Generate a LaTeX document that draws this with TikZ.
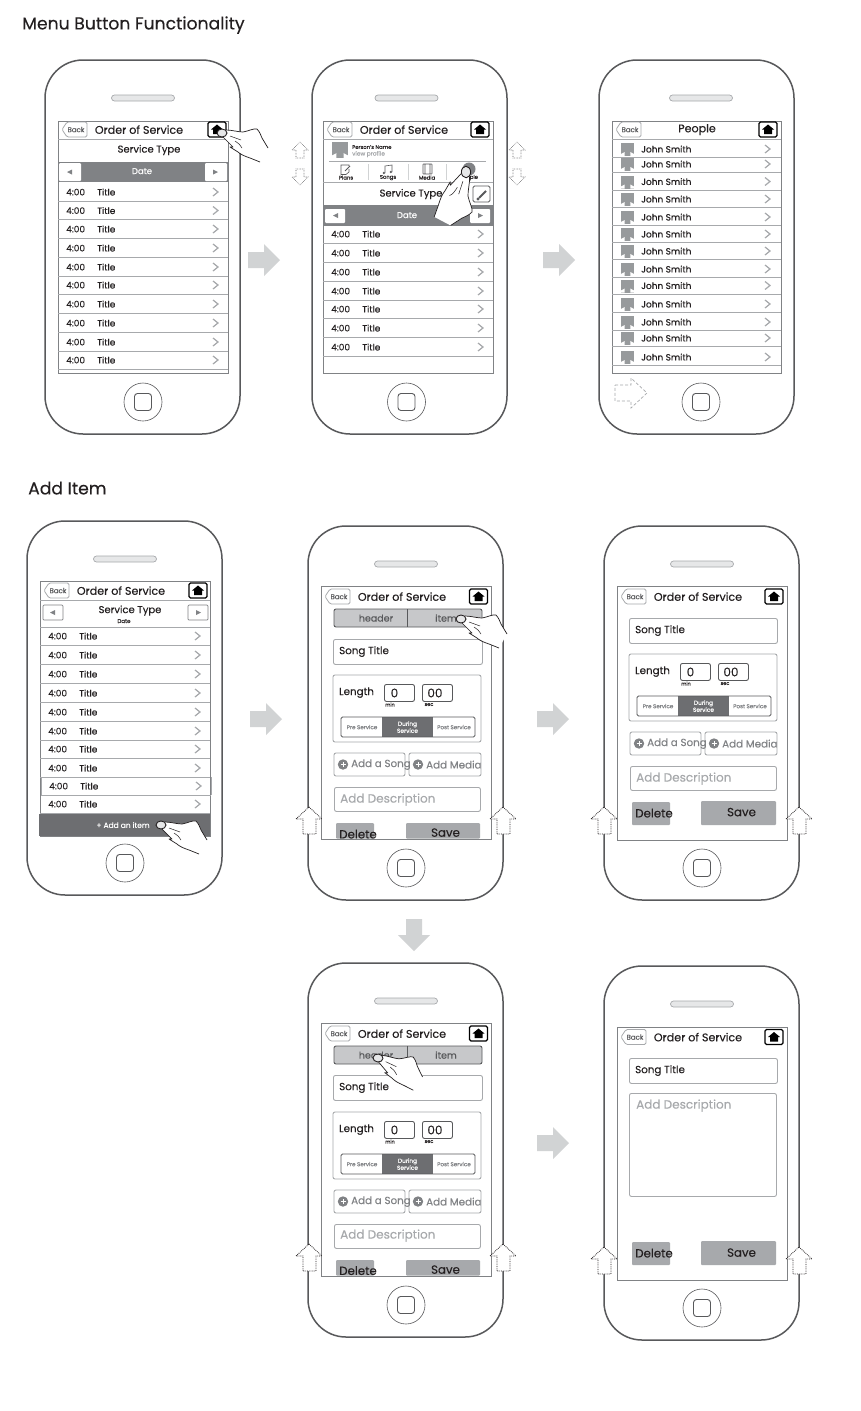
\documentclass[tikz,border=0pt]{standalone}
\usepackage{fontspec}
\setmainfont[FakeBold=0.2]{Poppins}
\definecolor{gA}{HTML}{58595B}
\definecolor{gB}{HTML}{808285}
\definecolor{gC}{HTML}{A7A9AC}
\definecolor{gD}{HTML}{D1D3D4}
\definecolor{gE}{HTML}{C7C8CA}
\definecolor{gF}{HTML}{6D6E71}
\definecolor{gG}{HTML}{E6E7E8}
\definecolor{txt}{HTML}{231F20}
\newcommand\fs[1]{\fontsize{#1}{#1}\selectfont}
\tikzset{
  lab/.style={inner sep=0pt,text=txt,font=\fs{9},yshift=-.1pt},
  rlab/.style={lab,anchor=west},
  thin line/.style={draw=gC,line width=.9pt},
  field/.style={draw=gC,line width=.9pt,rounded corners=2pt,fill=white},
  dotarrow/.style={draw=txt,densely dotted,line width=.8pt,fill=white},
  lightarrow/.style={draw=gA,densely dotted,line width=.55pt,fill=white},
  hand/.pic={
    \path[fill=white] (4,-3) .. controls (10,-3) and (16,-1) .. (21,-1)
      .. controls (27,-2) and (32,-5) .. (35,-4) .. controls (38,-1) and (39,3) .. (40,5)
      -- (46,15) -- (38,29) -- (28,25) -- (16,19) -- (8,14) -- (11,14) -- (1,4) -- cycle;
    \draw[txt,line width=.7pt,line join=round] (4,-3) .. controls (10,-3) and (16,-1) .. (21,-1)
      .. controls (27,-2) and (32,-5) .. (35,-4) .. controls (38,-1) and (39,3) .. (40,5) -- (46,15);
    \draw[txt,line width=.7pt,line join=round] (38,29) -- (28,25) .. controls (22,23) and (18,21) .. (16,19)
      -- (8,14) -- (11,14) -- (1,4);
    \draw[txt,line width=.5pt] (8,3) -- (19,7) (13,8) .. controls (16,10) and (19,12) .. (20,15);
    \draw[txt,line width=.9pt,fill=gG] (0,0) ellipse (5 and 4);
  }
}
% name, x, y, centre offset of speaker and home button
\newcommand\Phone[4]{\begin{scope}[shift={(#2,#3)}]
  \draw[gA,line width=1.5pt,rounded corners=38pt,fill=white] (0,0) rectangle (195,374);
  \draw[gC,line width=.7pt,rounded corners=3pt,fill=gG] (#4-31.5,35) rectangle (#4+31.5,41);
  \node[circle,draw=gA,line width=.6pt,minimum size=38pt,inner sep=0pt] (#1home) at (#4,342) {};
  \draw[gA,line width=.9pt,rounded corners=3pt] (#4-8.5,333.5) rectangle (#4+8.5,350.5);
\end{scope}}
% house button x centre, y centre
\newcommand\HomeBtn[2]{\begin{scope}[shift={(#1,#2)}]
  \draw[black,line width=1.1pt,rounded corners=1.5pt,fill=white] (-9,-7.5) rectangle (9,7.5);
  \fill[black] (-6,0) -- (0,-5) -- (6,0) -- (4,0) -- (4,4.5) -- (-4,4.5) -- (-4,0) -- cycle;
\end{scope}}
% name, left, top of button, title, title centre x, home x
\newcommand\Hdr[6]{%
  \draw[gC,line width=.8pt,rounded corners=1.5pt,fill=white] (#2+4,#3+7.5) -- (#2+9,#3) -- (#2+29,#3) -- (#2+29,#3+15) -- (#2+9,#3+15) -- cycle;
  \node[lab,font=\fs{7},text=gA] (#1back) at (#2+18,#3+7.5) {Back};
  \node[lab,font=\fs{11.1}] (#1title) at (#5,#3+7.5) {#4};
  \HomeBtn{#6}{#3+7.5}}
\newcommand\Chev[2]{\draw[gC,line width=1.2pt] (#1-3,#2-4) -- (#1+2,#2) -- (#1-3,#2+4);}
% name, left, y
\newcommand\TRow[3]{%
  \node[rlab] (#1t) at (#2+8,#3) {4:00};
  \node[rlab] (#1n) at (#2+39,#3) {Title};
  \Chev{#2+158}{#3}
  \draw[thin line] (#2,#3+9.2) -- (#2+170,#3+9.2);}
\newcommand\Avatar[3]{\begin{scope}[shift={(#1,#2)},scale=#3]
  \fill[gC!60!gB] (0,0) rectangle (1,1);
  \fill[white] (0,1) -- (0,.84) -- (.27,.7) -- (.27,1) -- cycle (1,1) -- (1,.84) -- (.73,.7) -- (.73,1) -- cycle;
\end{scope}}
% name, y
\newcommand\PRow[2]{%
  \Avatar{621}{#2-6}{13}
  \node[rlab] (#1) at (641,#2) {John Smith};
  \Chev{768}{#2}
  \draw[thin line] (612,#2+8.5) -- (781,#2+8.5);}
% name, x, y : length block
\newcommand\LenBlock[3]{\begin{scope}[shift={(#2,#3)}]
  \draw[field] (0,0) rectangle (148,67);
  \node[rlab,font=\fs{10.3}] (#1len) at (6,17.5) {Length};
  \node[draw=gA,line width=.9pt,rounded corners=2pt,minimum width=30pt,minimum height=17pt,inner sep=0pt,text=txt,font=\fs{12},anchor=north west] (#1min) at (51,9) {\hspace*{-10pt}0};
  \node[draw=gA,line width=.9pt,rounded corners=2pt,minimum width=30pt,minimum height=17pt,inner sep=0pt,text=txt,font=\fs{12},anchor=north west] (#1sec) at (89,9) {\hspace*{-5pt}00};
  \node[lab,font=\fs{5}] (#1mint) at (57,29.5) {min};
  \node[lab,font=\fs{5}] (#1sect) at (96,29.5) {sec};
  \fill[gF] (49,42) rectangle (100,62);
  \draw[gA,line width=.8pt,rounded corners=1.5pt] (8,42) rectangle (142,62);
  \node[lab,font=\fs{5.6},text=gB] (#1pre) at (29,52) {Pre Service};
  \node[lab,font=\fs{5.8},text=white,align=center] (#1dur) at (74.5,52) {During\\Service};
  \node[lab,font=\fs{5.6},text=gB] (#1post) at (121,52) {Post Service};
\end{scope}}
% name, x, y : add buttons
\newcommand\AddBtns[3]{\begin{scope}[shift={(#2,#3)}]
  \draw[field] (0,0) rectangle (71,23);
  \draw[field] (75,0) rectangle (147,23);
  \fill[gB] (9,11.5) circle (5.2);
  \fill[gB] (84,11.5) circle (5.2);
  \draw[white,line width=.6pt] (6.5,11.5) -- (11.5,11.5) (9,9) -- (9,14) (81.5,11.5) -- (86.5,11.5) (84,9) -- (84,14);
  \node[rlab,font=\fs{10.3},text=gB] (#1song) at (17,11.5) {Add a Song};
  \node[rlab,font=\fs{10.3},text=gB] (#1media) at (92,11.5) {Add Media};
\end{scope}}
\newcommand\Seg[3]{\begin{scope}[shift={(#2,#3)}]
  \draw[gA,line width=.9pt,rounded corners=2pt,fill=gE] (0,0) rectangle (148,18);
  \draw[gA,line width=.9pt] (73,0) -- (73,18);
  \node[lab,font=\fs{9.5},text=gA] (#1hd) at (42,9) {header};
  \node[lab,font=\fs{9.5},text=gA] (#1it) at (112,9) {item};
\end{scope}}
\newcommand\UpArrow[2]{\path[dotarrow] (#1,#2) -- (#1+13,#2+12) -- (#1+7,#2+12) -- (#1+7,#2+27) -- (#1-6,#2+27) -- (#1-6,#2+12) -- (#1-13,#2+12) -- cycle;}
\newcommand\MiniUp[2]{\path[lightarrow] (#1,#2) -- (#1+8,#2+8) -- (#1+4,#2+8) -- (#1+4,#2+16) -- (#1-4,#2+16) -- (#1-4,#2+8) -- (#1-8,#2+8) -- cycle;}
\newcommand\MiniDn[2]{\path[lightarrow] (#1,#2+16) -- (#1+8,#2+8) -- (#1+4,#2+8) -- (#1+4,#2) -- (#1-4,#2) -- (#1-4,#2+8) -- (#1-8,#2+8) -- cycle;}
\newcommand\BigR[2]{\fill[gD] (#1,#2+8) -- (#1+16,#2+8) -- (#1+16,#2) -- (#1+32,#2+16) -- (#1+16,#2+32) -- (#1+16,#2+24) -- (#1,#2+24) -- cycle;}
\newcommand\BigD[2]{\fill[gD] (#1+8,#2) -- (#1+24,#2) -- (#1+24,#2+16) -- (#1+32,#2+16) -- (#1+16,#2+32) -- (#1,#2+16) -- (#1+8,#2+16) -- cycle;}
\begin{document}
\begin{tikzpicture}[x=1pt,y=-1pt]
\useasboundingbox (0,0) rectangle (861,1411);
\fill[white] (0,0) rectangle (861,1411);
\node[rlab,font=\fs{17.2}] (title1) at (22,25) {Menu Button Functionality};
\node[rlab,font=\fs{17.2}] (title2) at (28,488) {Add Item};

% ---------- Phone 1
\Phone{pa}{45}{60}{98}
\draw[gB,line width=.9pt,fill=white] (58,121) rectangle (228,373);
\Hdr{pa}{58}{122}{Order of Service}{139}{217}
\draw[thin line] (58,139) -- (228,139);
\node[lab,font=\fs{10}] (pasvc) at (149,150) {Service Type};
\fill[gB] (58,162) rectangle (228,182);
\node[lab,font=\fs{8.5},text=white] (padate) at (142,171) {Date};
\fill[white,rounded corners=1pt] (59,163) rectangle (81,181) (205,163) rectangle (227,181);
\fill[gB] (72,169.5) -- (67,172) -- (72,174.5) -- cycle (213,169.5) -- (218,172) -- (213,174.5) -- cycle;
\foreach \i/\y in {0/192,1/210.5,2/229,3/248,4/267,5/285,6/304,7/323,8/342,9/360}{\TRow{par\i}{58}{\y}}

% ---------- Phone 2
\Phone{pb}{312}{60}{94.5}
\draw[gB,line width=.9pt,fill=white] (323,121) rectangle (493,373);
\Hdr{pb}{323}{122}{Order of Service}{404}{480}
\draw[thin line] (323,139) -- (493,139);
\Avatar{332}{142}{16}
\node[rlab,font=\fs{5.3}] (pbpn) at (352,147) {Person's Name};
\node[rlab,font=\fs{5.8},text=gC] (pbvp) at (352,154) {view profile};
\draw[gC,line width=1pt] (329,161.5) -- (486,161.5);
\draw[gD,line width=.6pt] (368,164) -- (368,180) (408,164) -- (408,180) (446,164) -- (446,180);
% plans icon
\draw[gA,line width=.6pt] (349,169) -- (349,172) -- (346,174.5) -- (341,174.5) -- (341,165) -- (349,165) -- (349,166);
\draw[gA,line width=.8pt] (345,171) -- (350,166);
% songs icon
\draw[gA,line width=.6pt] (385,173) -- (385,166) -- (392,165) -- (392,172);
\fill[gA] (383.8,173) circle (1.3) (390.8,172) circle (1.3);
% media icon
\draw[gA,line width=.6pt,rounded corners=.5pt] (423,164) rectangle (432,174) (425,164) -- (425,174) (430,164) -- (430,174);
% people icon
\fill[gB] (469,169) circle (6.5);
\node[lab,font=\fs{5.3}] (pbi1) at (346,177.5) {Plans};
\node[lab,font=\fs{5.3}] (pbi2) at (388,177.5) {Songs};
\node[lab,font=\fs{5.3}] (pbi3) at (427,177.5) {Media};
\node[lab,font=\fs{5.3}] (pbi4) at (469,177.5) {People};
\draw[thin line] (323,182) -- (493,182);
\node[lab,font=\fs{10}] (pbsvc) at (411,194) {Service Type};
\draw[gA,line width=.9pt,rounded corners=1.5pt,fill=white] (473,186) rectangle (490,202);
\draw[gA,line width=2pt] (479,198) -- (486,191);
\fill[gA] (478,199) circle (1.6);
\fill[gB] (323,205) rectangle (493,226);
\node[lab,font=\fs{8.5},text=white] (pbdate) at (407,215) {Date};
\fill[white,rounded corners=1pt] (325,209) rectangle (345,223) (470,209) rectangle (490,223);
\fill[gB] (338,213) -- (333,215.5) -- (338,218) -- cycle (478,213) -- (483,215.5) -- (478,218) -- cycle;
\foreach \i/\y in {0/234,1/253,2/272,3/291,4/309,5/328,6/347}{\TRow{pbr\i}{323}{\y}}
\MiniUp{300}{142}\MiniDn{300}{169}\MiniUp{517}{142}\MiniDn{517}{169}

% ---------- Phone 3
\Phone{pc}{599}{60}{102}
\draw[gB,line width=.9pt,fill=white] (612,121) rectangle (781,373);
\Hdr{pc}{612}{122}{People}{697}{768}
\draw[thin line] (612,139) -- (781,139);
\foreach \i/\y in {0/149,1/164,2/181.5,3/199,4/217,5/234,6/251,7/269,8/285.5,9/304,10/322,11/338,12/357}{\PRow{pcr\i}{\y}}
\draw[gC,densely dashed,line width=.7pt] (615,385) -- (631,385) -- (631,378) -- (647,393) -- (631,408) -- (631,401) -- (615,401) -- cycle;

% ---------- Phone 4
\Phone{pd}{27}{521}{98}
\draw[gB,line width=.9pt,fill=white] (40,581) rectangle (210,836);
\Hdr{pd}{40}{583}{Order of Service}{121}{198}
\draw[thin line] (40,600) -- (210,600);
\node[lab,font=\fs{10}] (pdsvc) at (130,610.5) {Service Type};
\node[lab,font=\fs{5.5}] (pddate) at (124,621) {Date};
\draw[gB,line width=.7pt,rounded corners=1pt,fill=white] (43,605) rectangle (63,620) (188,605) rectangle (208,620);
\fill[gB] (55,610) -- (50,612.5) -- (55,615) -- cycle (196,610) -- (201,612.5) -- (196,615) -- cycle;
\draw[thin line] (40,627) -- (210,627);
\foreach \i/\y in {0/636,1/655,2/674,3/693,4/712,5/731,6/749,7/768}{\TRow{pdr\i}{40}{\y}}
\TRow{pdr8}{41}{786}
\TRow{pdr9}{40}{804}
\draw[thin line] (41,777) -- (41,795) (211,777) -- (211,795);
\fill[gF] (39,814) rectangle (210,836);
\node[lab,font=\fs{7.5},text=white] (pdadd) at (123,825) {+ Add an item};

% ---------- Phone 5
\Phone{pe}{308}{526}{98}
\draw[gB,line width=.9pt,fill=white] (321,586) rectangle (491,839);
\Hdr{pe}{321}{589}{Order of Service}{402}{478.5}
\Seg{pe}{334}{609}
\node[field,minimum width=149pt,minimum height=25pt,anchor=north west,inner sep=0pt] (pest) at (333,639) {};
\node[rlab,font=\fs{10.3}] (pestt) at (339,651.5) {Song Title};
\LenBlock{pe}{333}{675}
\AddBtns{pe}{334}{753}
\node[field,minimum width=146pt,minimum height=24pt,anchor=north west,inner sep=0pt] (pede) at (334,787) {};
\node[rlab,font=\fs{12},text=gC] (pedet) at (340,799.5) {Add Description};
\fill[gC,rounded corners=1pt] (336,838.5) -- (336,823) -- (374,823) -- (374,838.5) -- cycle;
\fill[gC,rounded corners=1pt] (406,838.5) -- (406,823) -- (480,823) -- (480,838.5) -- cycle;
\node[lab,font=\fs{11.8}] (pedel) at (358,834) {Delete};
\node[lab,font=\fs{11.8}] (pesav) at (445.5,832.5) {Save};
\UpArrow{309}{807}\UpArrow{503}{807}

% ---------- Phone 6
\Phone{pf}{604}{526}{98}
\draw[gB,line width=.9pt,fill=white] (617,586) rectangle (787,840);
\Hdr{pf}{617}{589}{Order of Service}{698}{774}
\node[field,minimum width=148pt,minimum height=25pt,anchor=north west,inner sep=0pt] (pfst) at (629,618) {};
\node[rlab,font=\fs{10.3}] (pfstt) at (635,630.5) {Song Title};
\LenBlock{pf}{629}{654}
\AddBtns{pf}{630}{732}
\node[field,minimum width=146pt,minimum height=24pt,anchor=north west,inner sep=0pt] (pfde) at (630,766) {};
\node[rlab,font=\fs{12},text=gC] (pfdet) at (636,778.5) {Add Description};
\fill[gC,rounded corners=1pt] (632,802) rectangle (670,825);
\fill[gC,rounded corners=1pt] (701,801) rectangle (776,825);
\node[lab,font=\fs{11.8}] (pfdel) at (654,813) {Delete};
\node[lab,font=\fs{11.8}] (pfsav) at (741.5,812) {Save};
\UpArrow{604}{807}\UpArrow{799}{807}

% ---------- Phone 7
\Phone{pg}{308}{963}{98}
\draw[gB,line width=.9pt,fill=white] (321,1023) rectangle (491,1276);
\Hdr{pg}{321}{1026}{Order of Service}{402}{478.5}
\Seg{pg}{334}{1046}
\node[field,minimum width=149pt,minimum height=25pt,anchor=north west,inner sep=0pt] (pgst) at (333,1075) {};
\node[rlab,font=\fs{10.3}] (pgstt) at (339,1087.5) {Song Title};
\LenBlock{pg}{333}{1112}
\AddBtns{pg}{334}{1190}
\node[field,minimum width=146pt,minimum height=24pt,anchor=north west,inner sep=0pt] (pgde) at (334,1224) {};
\node[rlab,font=\fs{12},text=gC] (pgdet) at (340,1235.5) {Add Description};
\fill[gC,rounded corners=1pt] (336,1275.5) -- (336,1260) -- (374,1260) -- (374,1275.5) -- cycle;
\fill[gC,rounded corners=1pt] (406,1275.5) -- (406,1260) -- (480,1260) -- (480,1275.5) -- cycle;
\node[lab,font=\fs{11.8}] (pgdel) at (358,1270.5) {Delete};
\node[lab,font=\fs{11.8}] (pgsav) at (445.5,1269.5) {Save};
\UpArrow{309}{1244}\UpArrow{503}{1244}

% ---------- Phone 8
\Phone{ph}{604}{966}{98}
\draw[gB,line width=.9pt,fill=white] (617,1027) rectangle (787,1280);
\Hdr{ph}{617}{1029.5}{Order of Service}{698}{774}
\node[field,minimum width=148pt,minimum height=25pt,anchor=north west,inner sep=0pt] (phst) at (629,1058) {};
\node[rlab,font=\fs{10.3}] (phstt) at (635,1070.5) {Song Title};
\node[field,minimum width=147pt,minimum height=103pt,anchor=north west,inner sep=0pt] (phde) at (629,1093) {};
\node[rlab,font=\fs{12},text=gC] (phdet) at (636,1105.5) {Add Description};
\fill[gC,rounded corners=1pt] (632,1242) rectangle (670,1265);
\fill[gC,rounded corners=1pt] (701,1241) rectangle (776,1265);
\node[lab,font=\fs{11.8}] (phdel) at (654,1253) {Delete};
\node[lab,font=\fs{11.8}] (phsav) at (741.5,1252.5) {Save};
\UpArrow{604}{1247}\UpArrow{799}{1247}

% ---------- Big arrows
\BigR{248}{244}\BigR{543}{244}\BigR{250}{703}\BigR{537}{703}\BigD{398}{919}\BigR{537}{1127}

% ---------- Hands
\pic (handa) at (222,133) {hand};
\pic[rotate=-88,scale=1.15] (handb) at (466,172) {hand};
\pic (handd) at (161,825) {hand};
\pic (hande) at (461,619) {hand};
\pic[rotate=-5] (handg) at (378,1058) {hand};
\end{tikzpicture}
\end{document}
